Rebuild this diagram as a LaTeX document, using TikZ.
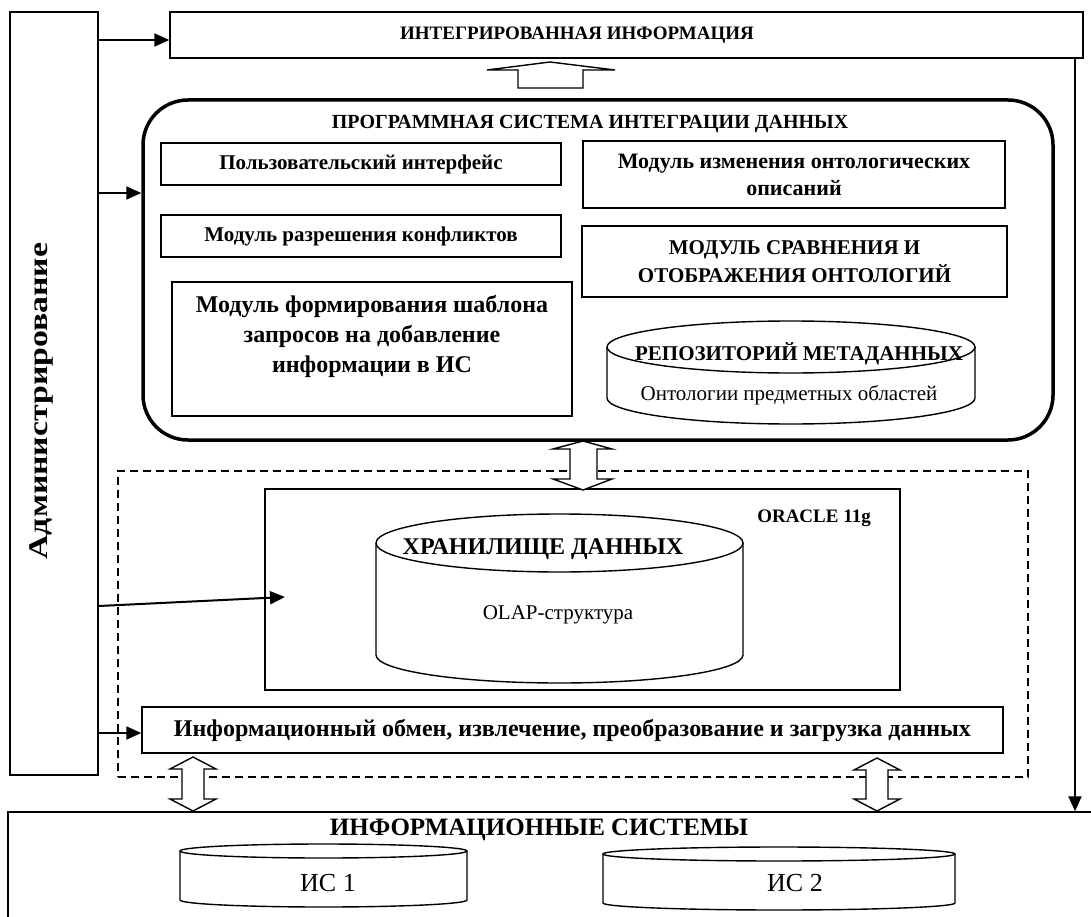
\documentclass[tikz,border=0pt]{standalone}
\usepackage{fontspec}
\usepackage{graphicx}
\setmainfont{Liberation Serif}
\usetikzlibrary{arrows.meta}

\begin{document}
\begin{tikzpicture}[
  x=1pt, y=-1pt,
  font=\fontsize{21}{25}\selectfont\bfseries,
  box/.style={draw, line width=1.4pt, inner sep=0pt, align=center},
  bigtext/.style={font=\fontsize{24}{30}\selectfont\bfseries},
  plain/.style={font=\fontsize{21}{25}\selectfont},
  title/.style={font=\fontsize{19}{22}\selectfont\bfseries},
  arrow/.style={-{Triangle[length=15pt, width=13pt]}, line width=2pt},
  hollow/.style={draw, fill=white, line width=1.4pt, line join=miter},
  cyl/.style={line width=1.4pt},
  zone/.style={draw, dash pattern=on 8pt off 5pt, line width=1.2pt, inner sep=0pt}
]
\useasboundingbox (0,0) rectangle (1091,917);
\clip (0,0) rectangle (1091,917);

% administration column
\node[box, minimum width=88pt, minimum height=763pt] (admin) at (54,393.5) {};
\node[font=\fontsize{27}{30}\selectfont\bfseries, rotate=90] (admintxt) at (41,401) {\scalebox{1.25}[1]{Администрирование}};

% integrated information
\node[box, minimum width=913pt, minimum height=46pt] (intinfo) at (626.5,35) {};
\node[title] (intinfotxt) at (577,35) {ИНТЕГРИРОВАННАЯ ИНФОРМАЦИЯ};

% integration software system
\node[box, line width=3.5pt, rounded corners=45pt, minimum width=910pt, minimum height=340pt] (prog) at (598,270) {};
\node[title, font=\fontsize{20}{24}\selectfont\bfseries] (progtxt) at (590,124) {ПРОГРАММНАЯ СИСТЕМА ИНТЕГРАЦИИ ДАННЫХ};
\node[box, minimum width=400pt, minimum height=42pt] (ui) at (361,164) {Пользовательский интерфейс};
\node[box, minimum width=400pt, minimum height=42pt] (conf) at (361,236) {Модуль разрешения конфликтов};
\node[box, bigtext, minimum width=400pt, minimum height=134pt] (tmpl) at (372,349) {Модуль формирования шаблона\\запросов на добавление\\информации в ИС\\~};
\node[box, font=\fontsize{22}{27}\selectfont\bfseries, minimum width=422pt, minimum height=67pt] (ontchg) at (794,174.5) {Модуль изменения онтологических\\описаний};
\node[box, font=\fontsize{21}{28}\selectfont\bfseries, minimum width=425pt, minimum height=71pt] (ontmap) at (794.5,261.5) {МОДУЛЬ СРАВНЕНИЯ И\\ОТОБРАЖЕНИЯ ОНТОЛОГИЙ};

% metadata repository
\draw[cyl] (607,347) -- (607,398) arc[start angle=180, end angle=360, x radius=184pt, y radius=26pt] -- (975,347);
\draw[cyl] (791,347) ellipse[x radius=184pt, y radius=26pt];
\node[title, font=\fontsize{21}{24}\selectfont\bfseries] (repotxt) at (799,354) {РЕПОЗИТОРИЙ МЕТАДАННЫХ};
\node[plain] (ontotxt) at (789,395) {Онтологии предметных областей};

% data warehouse zone
\node[zone, minimum width=910pt, minimum height=306pt] (zone) at (573,624) {};
\node[box, minimum width=635pt, minimum height=201pt] (oracle) at (582.5,589.5) {};
\node[title] (oracletxt) at (814,518) {ORACLE 11g};
\draw[cyl] (376,543) -- (376,655) arc[start angle=180, end angle=360, x radius=183.5pt, y radius=28pt] -- (743,543);
\draw[cyl] (559.5,543) ellipse[x radius=183.5pt, y radius=29pt];
\node[font=\fontsize{24}{27}\selectfont\bfseries] (dwtxt) at (543,549) {ХРАНИЛИЩЕ ДАННЫХ};
\node[plain] (olaptxt) at (558,615) {OLAP-структура};
\node[box, font=\fontsize{24}{27}\selectfont\bfseries, minimum width=861pt, minimum height=46pt] (etl) at (572.5,730) {Информационный обмен, извлечение, преобразование и загрузка данных};

% information systems
\node[box, minimum width=1084pt, minimum height=136pt] (infsys) at (550,880) {};
\node[title, font=\fontsize{25}{28}\selectfont\bfseries] (infsystxt) at (539,830) {ИНФОРМАЦИОННЫЕ СИСТЕМЫ};
\draw[cyl] (180,851) -- (180,900) arc[start angle=180, end angle=360, x radius=143.5pt, y radius=7pt] -- (467,851);
\draw[cyl] (323.5,851) ellipse[x radius=143.5pt, y radius=7pt];
\node[font=\fontsize{26}{30}\selectfont] (is1) at (328,883) {ИС 1};
\draw[cyl] (603,854) -- (603,903) arc[start angle=180, end angle=360, x radius=176pt, y radius=7pt] -- (955,854);
\draw[cyl] (779,854) ellipse[x radius=176pt, y radius=7pt];
\node[font=\fontsize{26}{30}\selectfont] (is2) at (795,883) {ИС 2};

% block arrows
\draw[hollow] (550,62) -- (615,70) -- (583,70) -- (583,88) -- (518,88) -- (518,70) -- (487,70) -- cycle;
\draw[hollow] (583,441) -- (612,449) -- (597,449) -- (597,479) -- (612,479) -- (583,490) -- (553,479) -- (570,479) -- (570,449) -- (553,449) -- cycle;
\draw[hollow] (193,757) -- (216,769) -- (204,769) -- (204,799) -- (216,799) -- (193,811) -- (170,799) -- (182,799) -- (182,769) -- (170,769) -- cycle;
\draw[hollow] (877,758) -- (900,770) -- (888,770) -- (888,799) -- (900,799) -- (877,811) -- (854,799) -- (866,799) -- (866,770) -- (854,770) -- cycle;

% control arrows
\coordinate (y1) at (0,40);
\coordinate (y2) at (0,193);
\coordinate (y3) at (0,606);
\coordinate (y4) at (0,733);
\coordinate (olapin) at (285,597);
\coordinate (rline) at (1075,0);
\draw[arrow] (admin.east |- y1) -- (intinfo.west |- y1);
\draw[arrow] (admin.east |- y2) -- (prog.west |- y2);
\draw[arrow] (admin.east |- y3) -- (olapin);
\draw[arrow] (admin.east |- y4) -- (etl.west |- y4);
\draw[arrow] (intinfo.south -| rline) -- (infsys.north -| rline);
\end{tikzpicture}
\end{document}
